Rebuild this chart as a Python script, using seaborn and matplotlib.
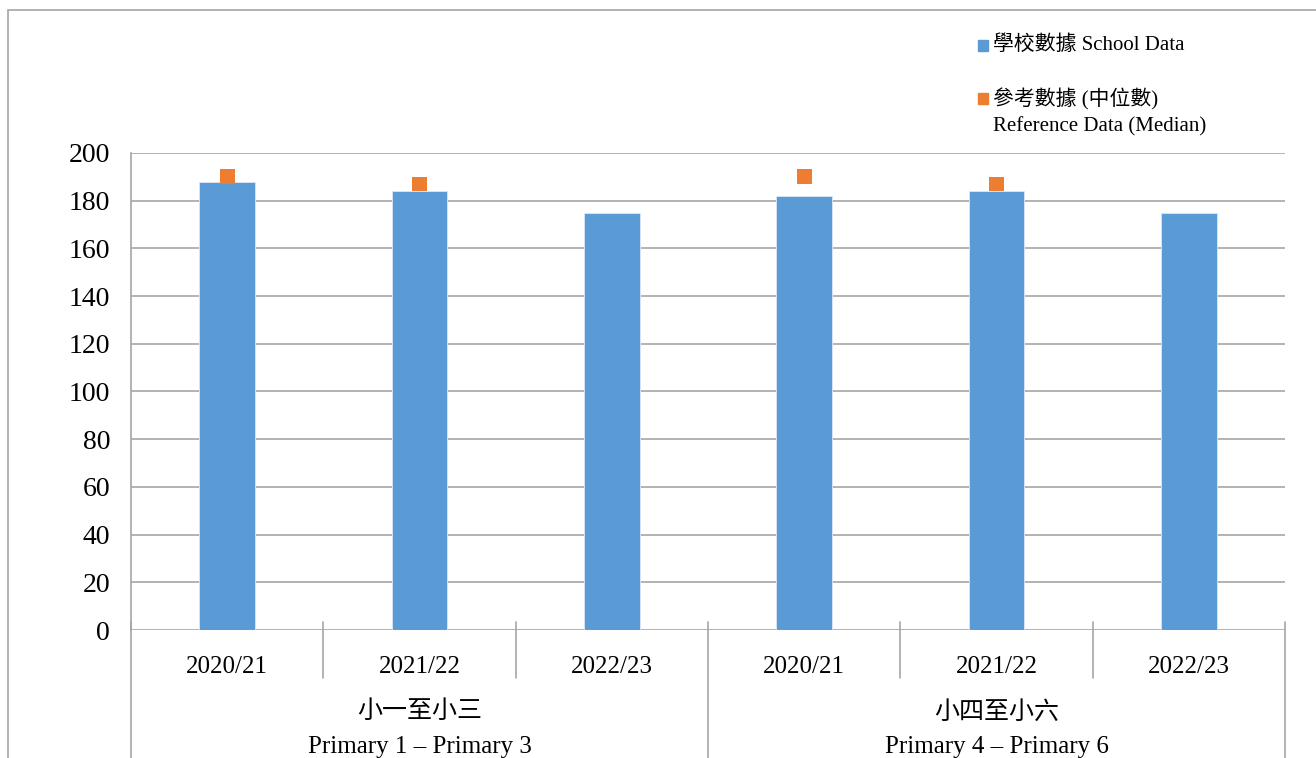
import numpy as np
import pandas as pd
import matplotlib
matplotlib.use('Agg')
import matplotlib.pyplot as plt
import matplotlib.patches as mpatches
from matplotlib.lines import Line2D
import seaborn as sns

# datos
grupos_zh = ['小一至小三', '小四至小六']
grupos_en = ['Primary 1 – Primary 3', 'Primary 4 – Primary 6']
anios = ['2020/21', '2021/22', '2022/23']
escuela = [188, 184, 175, 182, 184, 175]
mediana = [190, 187, np.nan, 190, 187, np.nan]

claves = [f'{g}|{a}' for g in grupos_en for a in anios]
df = pd.DataFrame({'clave': claves, 'escuela': escuela, 'mediana': mediana})

sns.set_style('white')
plt.rcParams['font.family'] = ['Liberation Serif', 'Noto Sans CJK TC']
plt.rcParams['text.color'] = 'black'
plt.rcParams['xtick.labelcolor'] = 'black'
plt.rcParams['ytick.labelcolor'] = 'black'

AZUL = '#5B9BD5'
NARANJA = '#ED7D31'
GRIS = '#A6A6A6'

fig = plt.figure(figsize=(13.16, 7.58), dpi=100)
ax = fig.add_axes([131/1316, 1 - 630/758, (1285-131)/1316, (630-153)/758])

sns.barplot(data=df, x='clave', y='escuela', color=AZUL, width=0.29,
            saturation=1, edgecolor='#DCE8F5', linewidth=0.6, ax=ax, zorder=3)
sns.scatterplot(data=df, x='clave', y='mediana', marker='s', s=115,
                color=NARANJA, edgecolor='none', ax=ax, zorder=4)

ax.set_ylim(0, 200)
ax.set_xlim(-0.5, len(claves) - 0.5)
ax.set_yticks(range(0, 201, 20))
ax.yaxis.grid(True, color=GRIS, linewidth=1.2, zorder=0)
ax.set_axisbelow(True)
ax.set_xlabel('')
ax.set_ylabel('')
for lado in ['top', 'right', 'bottom']:
    ax.spines[lado].set_visible(False)
ax.spines['left'].set_color(GRIS)
ax.spines['left'].set_linewidth(1.2)
ax.tick_params(axis='y', length=5, color=GRIS, width=1.2, labelsize=20, pad=10)
ax.tick_params(axis='x', length=0)
ax.set_xticks(range(len(claves)))
ax.set_xticklabels(anios * len(grupos_en), fontsize=18)
ax.tick_params(axis='x', pad=19)

# eje de categorías en dos niveles
trans = ax.get_xaxis_transform()
px = 1 / ((630 - 153))
for i in range(len(claves) + 1):
    x = i - 0.5
    if i % 3 == 0:
        y0, y1 = 8 * px, -140 * px
    else:
        y0, y1 = 8 * px, -48 * px
    ax.add_artist(Line2D([x, x], [y0, y1], transform=trans, color=GRIS,
                         linewidth=1.2, clip_on=False))
for j, (zh, en) in enumerate(zip(grupos_zh, grupos_en)):
    xc = j * 3 + 1
    ax.text(xc, -82 * px, zh, transform=trans, ha='center', va='center', fontsize=18)
    ax.text(xc, -117 * px, en, transform=trans, ha='center', va='center', fontsize=18)

# leyenda manual arriba a la derecha
def fy(y):
    return 1 - y / 758

def fx(x):
    return x / 1316

fig.add_artist(mpatches.Rectangle((fx(978), fy(51)), 10/1316, 11/758,
                                  transform=fig.transFigure, color=AZUL))
fig.text(fx(993), fy(45), '學校數據 School Data', fontsize=15, va='center')
fig.add_artist(mpatches.Rectangle((fx(978), fy(104)), 10/1316, 11/758,
                                  transform=fig.transFigure, color=NARANJA))
fig.text(fx(993), fy(99), '參考數據 (中位數)', fontsize=15, va='center')
fig.text(fx(993), fy(127), 'Reference Data (Median)', fontsize=15, va='center')

# marco gris del gráfico
fig.add_artist(mpatches.Rectangle((fx(8), -0.1), 1.2, fy(10) + 0.1,
                                  transform=fig.transFigure, fill=False,
                                  edgecolor=GRIS, linewidth=1.2))

fig.savefig('out.png', dpi=100)
